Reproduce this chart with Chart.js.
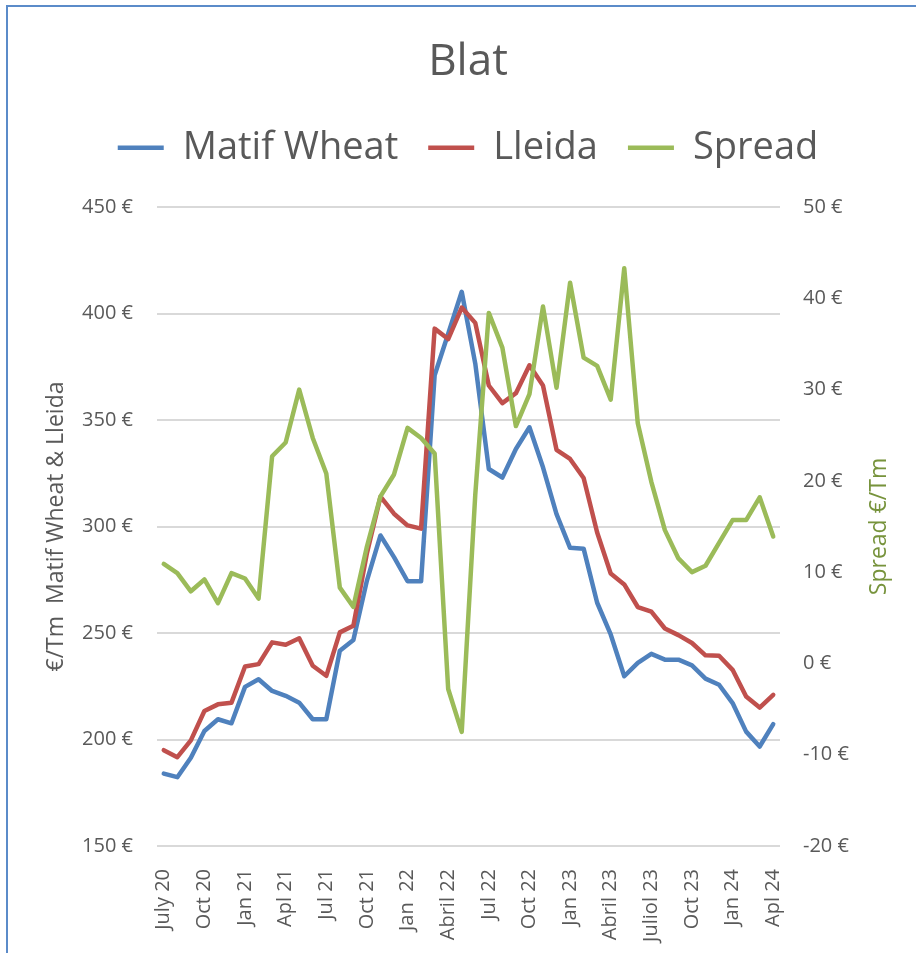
<!DOCTYPE html>
<html>
<head>
<meta charset="utf-8">
<script src="https://cdn.jsdelivr.net/npm/chart.js@4.4.1/dist/chart.umd.min.js"></script>
<style>
    html, body { margin: 0; padding: 0; background: #fff; overflow: hidden; }
    #frame { position: absolute; left: 6px; top: 5px; width: 930px; height: 970px; border-left: 2px solid #5b8bc9; border-top: 2px solid #5b8bc9; }
    #chart { position: absolute; left: 0; top: 0; }
</style>
</head>
<body>
<div id="frame"></div>
<canvas id="chart" width="916" height="953"></canvas>
<script>
// mesos de juliol 2020 a abril 2024
const months = [
    'Jul 20', 'Aug 20', 'Sep 20', 'Oct 20', 'Nov 20', 'Dec 20',
    'Jan 21', 'Feb 21', 'Mar 21', 'Apr 21', 'May 21', 'Jun 21', 'Jul 21', 'Aug 21', 'Sep 21', 'Oct 21', 'Nov 21', 'Dec 21',
    'Jan 22', 'Feb 22', 'Mar 22', 'Apr 22', 'May 22', 'Jun 22', 'Jul 22', 'Aug 22', 'Sep 22', 'Oct 22', 'Nov 22', 'Dec 22',
    'Jan 23', 'Feb 23', 'Mar 23', 'Apr 23', 'May 23', 'Jun 23', 'Jul 23', 'Aug 23', 'Sep 23', 'Oct 23', 'Nov 23', 'Dec 23',
    'Jan 24', 'Feb 24', 'Mar 24', 'Apr 24'
]
// etiquetes que surten a l'eix (una cada 3 mesos)
const tickLabels = [
    'July 20', 'Oct 20', 'Jan 21', 'Apl 21', 'Jul 21', 'Oct 21', 'Jan  22', 'Abril 22',
    'Jul 22', 'Oct 22', 'Jan 23', 'Abril 23', 'Juliol 23', 'Oct 23', 'Jan 24', 'Apl 24'
]
const matifWheat = [
    184, 182.3, 191.4, 204, 209.5, 207.6, 224.7, 228.3, 222.8, 220.5, 217.3, 209.5, 209.5, 241.7, 246.7, 274.6, 295.8, 285.6, 274.3, 274.3,
    371, 390.5, 410.2, 376.5, 327, 323, 336.4, 346.6, 327.8, 305.8, 290, 289.6, 264.2, 249.3, 229.7, 236, 240.2, 237.5, 237.5, 234.8,
    228.6, 225.7, 217.1, 203.7, 196.7, 207.2
]
const lleida = [
    195, 191.7, 199.6, 213.4, 216.5, 217.3, 234.3, 235.4, 245.6, 244.5, 247.5, 234.6, 229.9, 250.3, 253.4, 287.5, 314, 306, 300.5, 299,
    392.9, 388, 402.8, 395.6, 366.2, 357.9, 362.6, 375.7, 366.2, 336, 331.7, 322.8, 297.2, 277.9, 272.8, 262.2, 260, 252.1, 249, 245.3,
    239.5, 239.3, 232.7, 220.2, 215, 221
]
const spread = [
    10.9, 9.9, 7.9, 9.2, 6.6, 9.9, 9.3, 7.1, 22.7, 24.2, 30, 24.7, 20.8, 8.3, 6.2, 12.8, 18.3, 20.7, 25.8, 24.7,
    23, -2.8, -7.5, 18.5, 38.4, 34.6, 26, 29.5, 39.1, 30.2, 41.7, 33.5, 32.6, 28.9, 43.3, 26.3, 19.9, 14.6, 11.5, 10,
    10.7, 13.2, 15.7, 15.7, 18.2, 13.9
]

const FONT = '"Open Sans", "DejaVu Sans", sans-serif'
const GREY = '#595959'

Chart.defaults.font.family = FONT
Chart.defaults.color = GREY

const lineStyle = color => ({
    borderColor: color,
    backgroundColor: color,
    borderWidth: 4.5,
    borderCapStyle: 'round',
    borderJoinStyle: 'round',
    pointRadius: 0,
    tension: 0,
    fill: false
})

// el titol de l'eix dret va de baix cap amunt, com a l'Excel
const spreadTitle = {
    id: 'spreadTitle',
    afterDraw(chart) {
        const s = chart.scales.y2
        const ctx = chart.ctx
        ctx.save()
        ctx.translate(s.right - 18, (s.top + s.bottom) / 2)
        ctx.rotate(-Math.PI / 2)
        ctx.font = `23px ${FONT}`
        ctx.fillStyle = '#77933c'
        ctx.textAlign = 'center'
        ctx.textBaseline = 'middle'
        ctx.fillText('Spread €/Tm', 0, 0)
        ctx.restore()
    }
}

window.chart = new Chart(document.getElementById('chart').getContext('2d'), {
    type: 'line',
    data: {
        labels: months,
        datasets: [
            { label: 'Matif Wheat', data: matifWheat, yAxisID: 'y', order: 2, ...lineStyle('#4f81bd') },
            { label: 'Lleida', data: lleida, yAxisID: 'y', order: 1, ...lineStyle('#c0504d') },
            { label: 'Spread', data: spread, yAxisID: 'y2', order: 0, ...lineStyle('#9bbb59') }
        ]
    },
    options: {
        responsive: false,
        animation: false,
        events: [],
        layout: { padding: { top: 8, left: 39, right: 19, bottom: 0 } },
        plugins: {
            title: {
                display: true,
                text: 'Blat',
                color: GREY,
                font: { size: 44, weight: 'normal' },
                padding: { top: 28, bottom: 10 }
            },
            legend: {
                labels: {
                    usePointStyle: true,
                    pointStyle: 'line',
                    pointStyleWidth: 46,
                    padding: 30,
                    color: GREY,
                    font: { size: 38 },
                    sort: (a, b) => a.datasetIndex - b.datasetIndex
                }
            },
            // espai buit entre la llegenda i el grafic
            subtitle: {
                display: true,
                text: '',
                weight: 500,
                font: { size: 1 },
                padding: { top: 29, bottom: 0 }
            },
            tooltip: { enabled: false }
        },
        scales: {
            x: {
                offset: true,
                grid: { display: false },
                border: { display: false },
                ticks: {
                    autoSkip: false,
                    minRotation: 90,
                    maxRotation: 90,
                    padding: 15,
                    font: { size: 20 },
                    color: GREY,
                    callback: (v, i) => i % 3 === 0 ? tickLabels[i / 3] : ''
                },
                afterFit: s => { s.height = 107 }
            },
            y: {
                position: 'left',
                min: 150,
                max: 450,
                ticks: { stepSize: 50, padding: 24, font: { size: 20 }, color: GREY, callback: v => `${v} €` },
                grid: { color: '#d9d9d9', lineWidth: 2, drawTicks: false },
                border: { display: false },
                title: { display: true, text: '€/Tm  Matif Wheat & Lleida', color: GREY, font: { size: 23 } },
                afterFit: s => { s.width = 118 }
            },
            y2: {
                position: 'right',
                min: -20,
                max: 50,
                ticks: { stepSize: 10, padding: 23, font: { size: 20 }, color: GREY, callback: v => `${v} €` },
                grid: { drawOnChartArea: false, drawTicks: false },
                border: { display: false },
                afterFit: s => { s.width = 117 }
            }
        }
    },
    plugins: [spreadTitle]
})
</script>
</body>
</html>
